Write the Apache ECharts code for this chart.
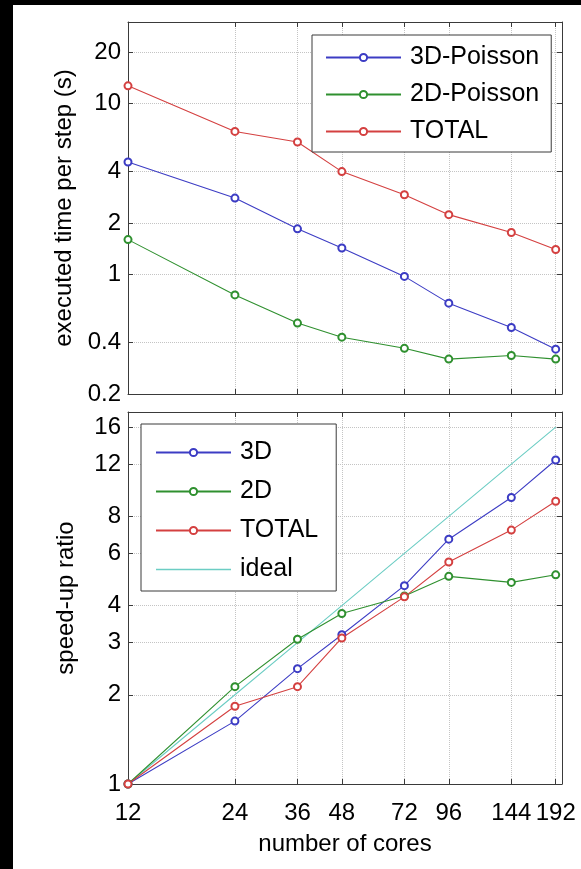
<!DOCTYPE html>
<html><head><meta charset="utf-8">
<script src="https://cdn.jsdelivr.net/npm/echarts@6/dist/echarts.min.js"></script>
<style>
html,body{margin:0;padding:0;background:#000;width:581px;height:869px;overflow:hidden}
#c{position:absolute;left:13px;top:5px;width:568px;height:864px;background:#fff}
</style>
</head><body><div id="c"></div>
<script>
const cores = [12, 24, 36, 48, 72, 96, 144, 192];
const xTicks = [12, 24, 36, 48, 72, 96, 144, 192];
const timeTicks = [0.2, 0.4, 1, 2, 4, 10, 20];
const speedTicks = [1, 2, 3, 4, 6, 8, 12, 16];

const time3D = [4.55, 2.80, 1.85, 1.43, 0.975, 0.68, 0.49, 0.366];
const time2D = [1.60, 0.76, 0.52, 0.43, 0.37, 0.32, 0.336, 0.32];
const timeTotal = [12.7, 6.87, 5.96, 4.0, 2.93, 2.24, 1.76, 1.40];

const speed3D = [1, 1.63, 2.45, 3.19, 4.67, 6.70, 9.26, 12.4];
const speed2D = [1, 2.13, 3.08, 3.76, 4.31, 5.02, 4.79, 5.08];
const speedTotal = [1, 1.83, 2.13, 3.11, 4.28, 5.61, 7.19, 9.0];
const speedIdeal = [1, 2, 3, 4, 6, 8, 12, 16];

const C3 = '#3c3cc4', C2 = '#2f902f', CT = '#d44040', CI = '#6ccdc4';
const FONT = 'Liberation Sans';
const AX = '#3a3a3a';

function pairs(ys) { return cores.map((x, i) => [x, ys[i]]); }

function xAx(grid, showLabel, pos) {
  return {
    type: 'log', gridIndex: grid, min: 12, max: 200, position: pos,
    axisLine: { show: true, lineStyle: { color: AX, width: 1 } },
    axisTick: { show: true, inside: true, length: 5, customValues: xTicks, lineStyle: { color: AX } },
    axisLabel: { show: showLabel, customValues: xTicks, color: '#000', fontFamily: FONT, fontSize: 24, margin: 17 },
    splitLine: { show: pos === 'bottom', lineStyle: { color: '#c4c4c4', type: 'dotted', width: 1 } },
    minorTick: { show: false }, minorSplitLine: { show: false }
  };
}
function yAx(grid, ticks, min, max, pos, name) {
  return {
    type: 'log', gridIndex: grid, min: min, max: max, position: pos,
    name: name, nameLocation: 'middle', nameGap: 50,
    nameTextStyle: { color: '#000', fontFamily: FONT, fontSize: 24 },
    axisLine: { show: true, lineStyle: { color: AX, width: 1 } },
    axisTick: { show: true, inside: true, length: 5, customValues: ticks, lineStyle: { color: AX } },
    axisLabel: { show: pos === 'left', customValues: ticks, color: '#000', fontFamily: FONT, fontSize: 24, margin: 7 },
    splitLine: { show: pos === 'left', lineStyle: { color: '#c4c4c4', type: 'dotted', width: 1 } },
    minorTick: { show: false }, minorSplitLine: { show: false }
  };
}
function ser(name, xi, yi, ys, color, sym) {
  return {
    name: name, type: 'line', xAxisIndex: xi, yAxisIndex: yi, data: pairs(ys),
    symbol: sym ? 'emptyCircle' : 'none', symbolSize: 7, showSymbol: !!sym,
    lineStyle: { color: color, width: 1.1 }, itemStyle: { color: color, borderWidth: 1 },
    animation: false, z: 3
  };
}
const legendBase = {
  orient: 'vertical', itemWidth: 75, itemHeight: 9,
  borderColor: AX, borderWidth: 1, backgroundColor: '#fff',
  textStyle: { color: '#000', fontFamily: FONT, fontSize: 25, padding: [0, 0, 0, 4] },
  selectedMode: false
};
const chart = echarts.init(document.getElementById('c'));
chart.setOption({
  animation: false,
  grid: [
    { left: 115, top: 17, width: 434, height: 372 },
    { left: 115, top: 407, width: 434, height: 372 }
  ],
  xAxis: [
    xAx(0, false, 'bottom'), xAx(0, false, 'top'),
    Object.assign(xAx(1, true, 'bottom'), { name: 'number of cores', nameLocation: 'middle', nameGap: 48,
      nameTextStyle: { color: '#000', fontFamily: FONT, fontSize: 24 } }),
    xAx(1, false, 'top')
  ],
  yAxis: [
    yAx(0, timeTicks, 0.2, 30, 'left', 'executed time per step (s)'),
    yAx(0, timeTicks, 0.2, 30, 'right', ''),
    yAx(1, speedTicks, 1, 18, 'left', 'speed-up ratio'),
    yAx(1, speedTicks, 1, 18, 'right', '')
  ],
  legend: [
    Object.assign({}, legendBase, { left: 299, top: 30, padding: [10, 12, 8, 13], itemGap: 12,
      data: ['3D-Poisson', '2D-Poisson', 'TOTAL'] }),
    Object.assign({}, legendBase, { left: 128, top: 419, padding: [16, 11, 9, 14], itemGap: 14,
      data: ['3D', '2D', 'TOTAL ', { name: 'ideal', icon: 'path://M0,0H75V1.3H0Z' }] })
  ],
  series: [
    ser('3D-Poisson', 0, 0, time3D, C3, true),
    ser('2D-Poisson', 0, 0, time2D, C2, true),
    ser('TOTAL', 0, 0, timeTotal, CT, true),
    ser('ideal', 2, 2, speedIdeal, CI, false),
    ser('3D', 2, 2, speed3D, C3, true),
    ser('2D', 2, 2, speed2D, C2, true),
    ser('TOTAL ', 2, 2, speedTotal, CT, true)
  ]
});
</script>
</body></html>
